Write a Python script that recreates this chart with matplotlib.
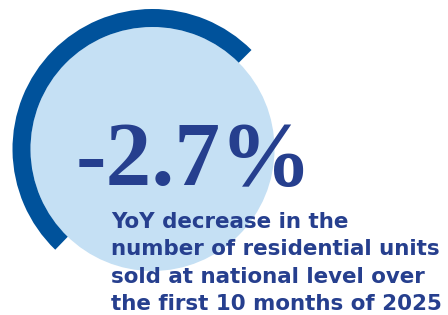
import matplotlib
matplotlib.use("Agg")
import matplotlib.pyplot as plt
from matplotlib.patches import Circle, Wedge

value_label = "-2.7%"
description_lines = [
    "YoY decrease in the",
    "number of residential units",
    "sold at national level over",
    "the first 10 months of 2025",
]
arc_start_deg = 45
arc_end_deg = 226

W, H = 448, 315
fig = plt.figure(figsize=(W / 100, H / 100), dpi=100)
ax = fig.add_axes([0, 0, 1, 1])
ax.set_xlim(0, W)
ax.set_ylim(H, 0)
ax.set_aspect("equal")
ax.axis("off")

cx, cy = 152.5, 149
ax.add_patch(Circle((cx, cy), 122, facecolor="#c5e0f4", edgecolor="none"))
# y axis inverted: angles flip sign
ax.add_patch(Wedge((cx, cy), 140, -arc_end_deg, -arc_start_deg, width=18,
                   facecolor="#00529b", edgecolor="none"))

navy = "#263f8e"
ax.text(76, 185, value_label, fontsize=66, fontweight="bold",
        family="Liberation Serif", color=navy, ha="left", va="baseline")

y0 = 228
for i, line in enumerate(description_lines):
    ax.text(111, y0 + i * 27.3, line, fontsize=15.4, fontweight="bold",
            family="DejaVu Sans", color=navy, ha="left", va="baseline")

fig.savefig("out.png", dpi=100)
